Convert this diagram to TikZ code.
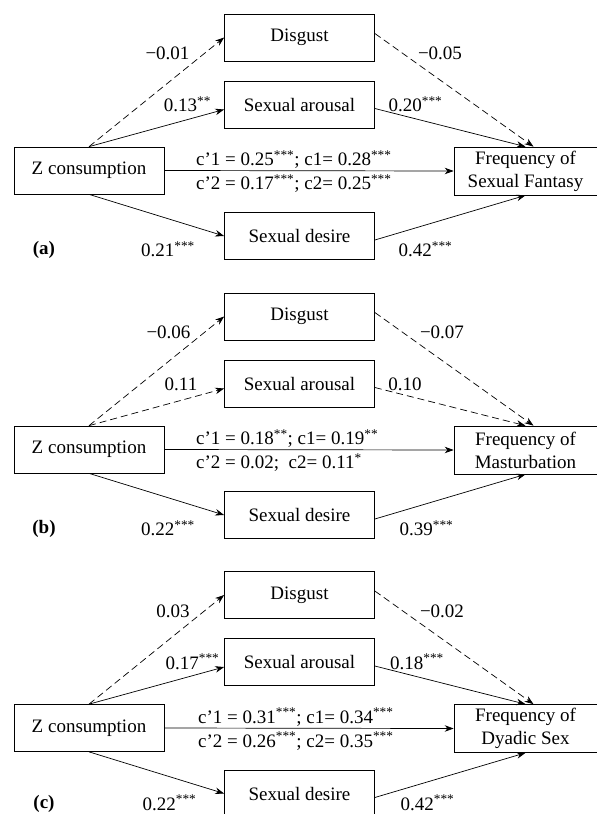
\documentclass[tikz,border=0pt]{standalone}
\usepackage{fontspec}
\setmainfont{Liberation Serif}
\usetikzlibrary{arrows.meta}
\newcommand{\panelboxes}[2]{%
  \node[var] (dis#1) at (299.5,37.5) {Disgust};
  \node[var] (aro#1) at (299.5,104.5) {Sexual arousal};
  \node[var] (des#1) at (299.5,236) {Sexual desire};
  \node[var] (z#1) at (89,170.5) {Z consumption};
  \node[var,minimum width=143pt,minimum height=48pt] (freq#1) at (525.5,171) {Frequency of\\#2};
}

\begin{document}
\begin{tikzpicture}[
      x=1pt, y=-1pt,
      every node/.style={font=\fontsize{19}{23}\selectfont},
      var/.style={draw, line width=0.7pt, minimum width=150pt, minimum height=47pt, align=center, inner sep=2pt},
      est/.style={anchor=base, inner sep=0pt},
      cest/.style={anchor=base west, inner sep=0pt},
      tag/.style={anchor=base, inner sep=0pt, font=\fontsize{19}{23}\selectfont\bfseries},
      ns/.style={dash pattern=on 7pt off 4pt},
      path/.style={->, line width=0.7pt},
      >={Stealth[length=9pt,width=6.5pt]}
    ]
      \useasboundingbox (0,0) rectangle (597,814);
      % (a)
      \panelboxes{a}{Sexual Fantasy}
      \node[tag] (taga) at (44,254.5) {(a)};
      \draw[path,ns] (za.north) -- (disa.west);
      \draw[path] (za.north) -- ([yshift=-5pt]aroa.west);
      \draw[path,ns] ([yshift=4pt]disa.east) -- ([xshift=8pt]freqa.north);
      \draw[path] ([yshift=-4pt]aroa.east) -- (freqa.north);
      \draw[path] (za.east) -- (freqa.west);
      \draw[path] (za.south) -- (desa.west);
      \draw[path] ([yshift=-4pt]desa.east) -- (freqa.south);
      \node[est] (ad1a) at (167.5,59.5) {−0.01};
      \node[est] (db1a) at (440,59.5) {−0.05};
      \node[est] (ad2a) at (187.5,111.5) {0.13\textsuperscript{**}};
      \node[est] (db2a) at (415.5,111.5) {0.20\textsuperscript{***}};
      \node[est] (ad3a) at (168,256.5) {0.21\textsuperscript{***}};
      \node[est] (db3a) at (425.5,256.5) {0.42\textsuperscript{***}};
      \node[cest] (c1a) at (196,165.5) {c’1 = 0.25\textsuperscript{***}; c1= 0.28\textsuperscript{***}};
      \node[cest] (c2a) at (196,189.5) {c’2 = 0.17\textsuperscript{***}; c2= 0.25\textsuperscript{***}};
      % (b)
      \begin{scope}[yshift=-279pt]
      \panelboxes{b}{Masturbation}
      \node[tag] (tagb) at (44,254.5) {(b)};
      \draw[path,ns] (zb.north) -- (disb.west);
      \draw[path,ns] (zb.north) -- ([yshift=-5pt]arob.west);
      \draw[path,ns] ([yshift=4pt]disb.east) -- ([xshift=8pt]freqb.north);
      \draw[path,ns] ([yshift=-4pt]arob.east) -- (freqb.north);
      \draw[path] (zb.east) -- (freqb.west);
      \draw[path] (zb.south) -- (desb.west);
      \draw[path] ([yshift=-4pt]desb.east) -- (freqb.south);
      \node[est] (ad1b) at (168.5,59.5) {−0.06};
      \node[est] (db1b) at (442,59.5) {−0.07};
      \node[est] (ad2b) at (181,111.5) {0.11};
      \node[est] (db2b) at (405,111.5) {0.10};
      \node[est] (ad3b) at (168,256.5) {0.22\textsuperscript{***}};
      \node[est] (db3b) at (426.5,256.5) {0.39\textsuperscript{***}};
      \node[cest] (c1b) at (196,165.5) {c’1 = 0.18\textsuperscript{**}; c1= 0.19\textsuperscript{**}};
      \node[cest] (c2b) at (196,189.5) {c’2 = 0.02;\ \ c2= 0.11\textsuperscript{*}};
      \end{scope}
      % (c)
      \begin{scope}[yshift=-557.5pt]
      \panelboxes{c}{Dyadic Sex}
      \node[tag] (tagc) at (44,251) {(c)};
      \draw[path,ns] (zc.north) -- (disc.west);
      \draw[path] (zc.north) -- ([yshift=-5pt]aroc.west);
      \draw[path,ns] ([yshift=4pt]disc.east) -- ([xshift=8pt]freqc.north);
      \draw[path] ([yshift=-4pt]aroc.east) -- (freqc.north);
      \draw[path] (zc.east) -- (freqc.west);
      \draw[path] (zc.south) -- (desc.west);
      \draw[path] ([yshift=-4pt]desc.east) -- (freqc.south);
      \node[est] (ad1c) at (173,59.5) {0.03};
      \node[est] (db1c) at (442,59.5) {−0.02};
      \node[est] (ad2c) at (192.5,111.5) {0.17\textsuperscript{***}};
      \node[est] (db2c) at (417,111.5) {0.18\textsuperscript{***}};
      \node[est] (ad3c) at (169.5,252.5) {0.22\textsuperscript{***}};
      \node[est] (db3c) at (427.5,252.5) {0.42\textsuperscript{***}};
      \node[cest] (c1c) at (198,165.5) {c’1 = 0.31\textsuperscript{***}; c1= 0.34\textsuperscript{***}};
      \node[cest] (c2c) at (198,189.5) {c’2 = 0.26\textsuperscript{***}; c2= 0.35\textsuperscript{***}};
      \end{scope}
    \end{tikzpicture}
\end{document}
